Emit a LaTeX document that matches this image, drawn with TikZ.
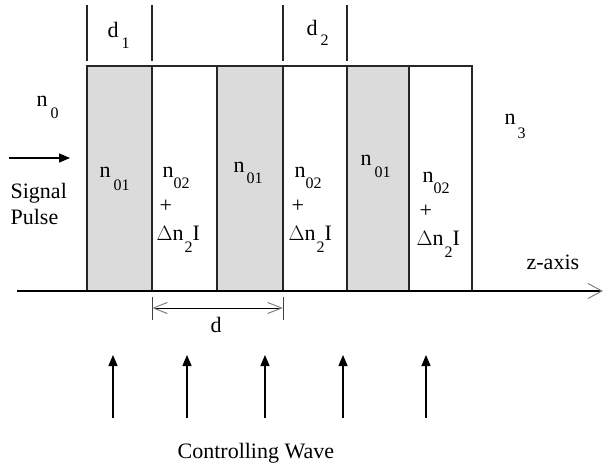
\documentclass[tikz,border=0pt]{standalone}
\usepackage{fontspec}
\setmainfont{Liberation Serif}
\usetikzlibrary{arrows.meta}
\newcommand{\sbs}[2][12pt]{\raisebox{-#1}{\fontsize{16}{16}\selectfont #2}}

\begin{document}
\begin{tikzpicture}[
    x=1pt, y=-1pt, line width=1.3pt,
    lbl/.style={inner sep=0pt, anchor=base west, font=\fontsize{22}{26}\selectfont},
    slab/.style={draw=black!85, line width=1.3pt},
    grayslab/.style={slab, fill=black!14},
    barb/.style={line width=1pt, Straight Barb[length=14pt, width=11pt, color=black!50]},
    solid/.style={-{Triangle[length=11pt, width=9pt]}}]
  \useasboundingbox[fill=white] (0,0) rectangle (603,466);
  % layers: gray n01, white n02 + dn2 I
  \filldraw[grayslab] (87,66) rectangle (152,291);
  \filldraw[slab, fill=white] (152,66) rectangle (217,291);
  \filldraw[grayslab] (217,66) rectangle (283,291);
  \filldraw[slab, fill=white] (283,66) rectangle (347,291);
  \filldraw[grayslab] (347,66) rectangle (409,291);
  \filldraw[slab, fill=white] (409,66) rectangle (472,291);
  % thickness marks on top
  \foreach \x in {87,152,283,347} \draw[black!85] (\x,5) -- (\x,61);
  \node[lbl] (d1) at (107,37) {d\kern3pt\sbs[11pt]{1}};
  \node[lbl] (d2) at (306,35) {d\kern3pt\sbs[10pt]{2}};
  % media outside
  \node[lbl] (n0) at (36,106) {n\kern3pt\sbs{0}};
  \node[lbl] (n3) at (504,124) {n\kern2pt\sbs[14pt]{3}};
  % gray layers
  \node[lbl] (g1) at (99,177) {n\kern3pt\sbs[13pt]{01}};
  \node[lbl] (g2) at (233,172) {n\kern2pt\sbs[11pt]{01}};
  \node[lbl] (g3) at (360,165) {n\kern3pt\sbs[12pt]{01}};
  % white layers
  \foreach \x/\y [count=\i] in {162/177,294/177,422/182} {
    \node[lbl] (w\i a) at (\x,\y) {n\sbs[11pt]{02}};
    \node[lbl] (w\i b) at (\x-3,\y+35) {+};
    \node[lbl] (w\i c) at (\x-6,\y+63) {$\Delta$n\kern1pt\sbs{2}I};
  }
  % signal pulse
  \coordinate (sp0) at (9,158);
  \coordinate (sp1) at (70,158);
  \draw[solid] (sp0) -- (sp1);
  \node[lbl] (sig) at (10,198) {Signal};
  \node[lbl] (pul) at (10,224) {Pulse};
  % z axis
  \coordinate (z0) at (17,291);
  \coordinate (z1) at (603,291);
  \draw[-{Straight Barb[length=14pt, width=15pt, line width=1pt, color=black!50]}] (z0) -- (z1);
  \node[lbl] (zax) at (526,269) {z-axis};
  % period d
  \coordinate (pd0) at (152,308);
  \coordinate (pd1) at (283,308);
  \draw[line width=1pt, black!75] (152,297) -- (152,320) (283,297) -- (283,320);
  \draw[line width=1pt, {Straight Barb[length=14pt, width=11pt, color=black!50]}-{Straight Barb[length=14pt, width=11pt, color=black!50]}] (pd0) -- (pd1);
  \node[lbl] (dd) at (210,332) {d};
  % controlling wave
  \foreach \x [count=\i] in {113,187,265,343,426} {
    \coordinate (cw\i) at (\x,418);
    \coordinate (ct\i) at (\x,355);
    \draw[solid] (cw\i) -- (ct\i);
  }
  \node[lbl] (cw) at (177,458) {Controlling Wave};
\end{tikzpicture}
\end{document}
